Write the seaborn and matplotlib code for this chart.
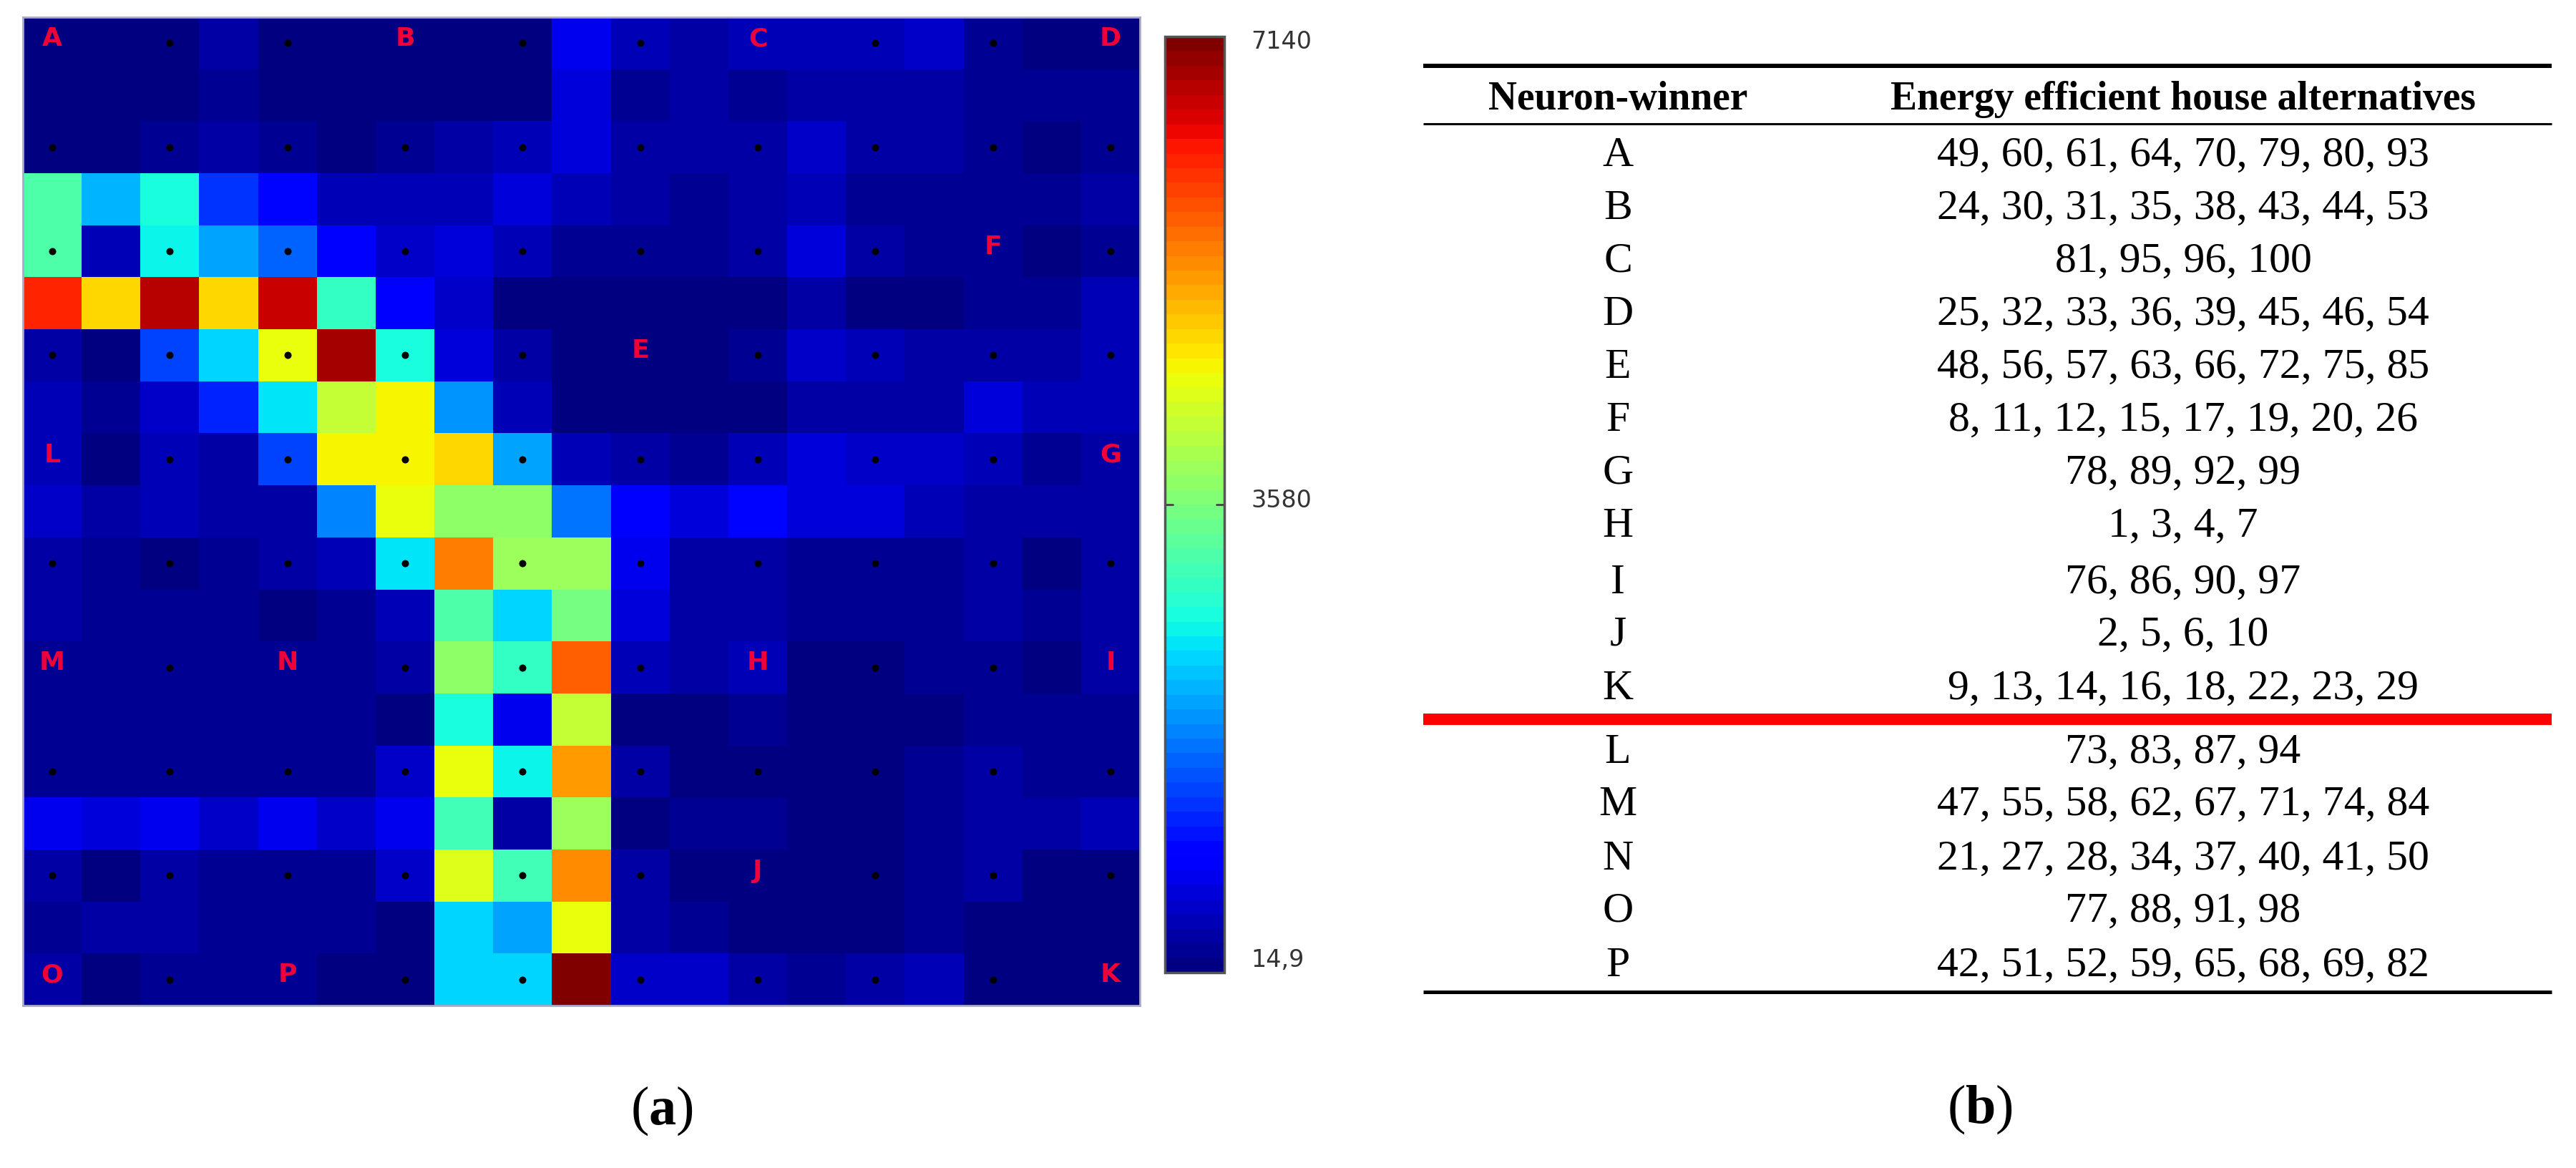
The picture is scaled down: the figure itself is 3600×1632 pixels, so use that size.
import matplotlib
matplotlib.use("Agg")
import matplotlib.pyplot as plt
import seaborn as sns
import numpy as np

# U-matrix of the map (a)
u_matrix = [
    [30, 30, 30, 260, 61, 30, 30, 15, 92, 768, 368, 276, 399, 399, 430, 553, 215, 30, 30],
    [15, 15, 15, 184, 61, 30, 30, 122, 122, 614, 184, 245, 153, 276, 276, 276, 215, 215, 215],
    [30, 30, 153, 276, 153, 15, 184, 307, 430, 645, 307, 276, 276, 491, 276, 276, 184, 30, 215],
    [3150, 2224, 2794, 1333, 941, 399, 399, 399, 614, 430, 276, 215, 276, 368, 153, 153, 153, 153, 245],
    [3150, 368, 2580, 2081, 1618, 834, 522, 583, 399, 153, 153, 153, 276, 614, 245, 215, 184, 30, 215],
    [6249, 4824, 6748, 4824, 6641, 2936, 799, 491, 122, 61, 61, 61, 30, 307, 61, 61, 215, 215, 399],
    [307, 61, 1440, 2366, 4575, 6855, 2722, 614, 245, 30, 15, 30, 153, 553, 368, 245, 245, 245, 430],
    [399, 215, 491, 1155, 2509, 4219, 4646, 2010, 399, 122, 15, 30, 61, 307, 307, 338, 614, 399, 399],
    [399, 92, 368, 307, 1440, 4646, 4646, 4860, 2117, 399, 276, 153, 368, 614, 553, 491, 399, 184, 245],
    [491, 276, 399, 245, 276, 1867, 4504, 3756, 3756, 1761, 799, 645, 1013, 583, 614, 399, 307, 245, 245],
    [245, 184, 122, 153, 245, 430, 2509, 5537, 3863, 3863, 737, 276, 276, 153, 153, 215, 245, 61, 276],
    [245, 153, 153, 153, 30, 153, 368, 3150, 2366, 3506, 676, 276, 307, 153, 153, 153, 276, 153, 245],
    [215, 153, 153, 153, 153, 153, 276, 3791, 2936, 5786, 368, 276, 399, 61, 61, 153, 215, 92, 245],
    [153, 153, 153, 153, 153, 153, 122, 2758, 692, 4183, 30, 122, 153, 122, 122, 15, 215, 153, 215],
    [153, 153, 153, 153, 153, 153, 491, 4539, 2616, 5323, 276, 92, 122, 61, 61, 153, 245, 153, 215],
    [737, 614, 768, 553, 707, 553, 768, 3079, 338, 3898, 61, 153, 153, 61, 61, 153, 307, 276, 399],
    [245, 122, 307, 153, 153, 153, 491, 4432, 3079, 5430, 245, 122, 122, 61, 61, 215, 245, 61, 61],
    [184, 245, 245, 153, 153, 153, 122, 2366, 2081, 4575, 245, 215, 30, 30, 30, 184, 30, 15, 30],
    [276, 122, 153, 184, 184, 30, 92, 2366, 2366, 7140, 491, 491, 245, 215, 245, 368, 61, 30, 30],
]
cbar_min = 14.9
cbar_mid = 3580
cbar_max = 7140

# neuron grid, every second cell of the matrix. empty string = plain dot
node_labels = [
    ["A", "", "", "B", "", "", "C", "", "", "D"],
    ["", "", "", "", "", "", "", "", "", ""],
    ["", "", "", "", "", "", "", "", "F", ""],
    ["", "", "", "", "", "E", "", "", "", ""],
    ["L", "", "", "", "", "", "", "", "", "G"],
    ["", "", "", "", "", "", "", "", "", ""],
    ["M", "", "N", "", "", "", "H", "", "", "I"],
    ["", "", "", "", "", "", "", "", "", ""],
    ["", "", "", "", "", "", "J", "", "", ""],
    ["O", "", "P", "", "", "", "", "", "", "K"],
]

table_header = ["Neuron-winner", "Energy efficient house alternatives"]
neurons = list("ABCDEFGHIJKLMNOP")
alternatives = [
    "49, 60, 61, 64, 70, 79, 80, 93",
    "24, 30, 31, 35, 38, 43, 44, 53",
    "81, 95, 96, 100",
    "25, 32, 33, 36, 39, 45, 46, 54",
    "48, 56, 57, 63, 66, 72, 75, 85",
    "8, 11, 12, 15, 17, 19, 20, 26",
    "78, 89, 92, 99",
    "1, 3, 4, 7",
    "76, 86, 90, 97",
    "2, 5, 6, 10",
    "9, 13, 14, 16, 18, 22, 23, 29",
    "73, 83, 87, 94",
    "47, 55, 58, 62, 67, 71, 74, 84",
    "21, 27, 28, 34, 37, 40, 41, 50",
    "77, 88, 91, 98",
    "42, 51, 52, 59, 65, 68, 69, 82",
]

W, H = 3600, 1633
row_centers = [218, 292, 366, 440, 514, 588, 662, 736, 815, 888, 963, 1052, 1125, 1201, 1274, 1350]

sns.set_theme(style="white")
plt.rcParams["font.family"] = ["DejaVu Sans"]
plt.rcParams["mathtext.fontset"] = "custom"
plt.rcParams["mathtext.rm"] = "Liberation Serif"
plt.rcParams["mathtext.bf"] = "Liberation Serif:bold"


def px_axes(fig, x0, y0, x1, y1):
    # axes from pixel box, y from the top
    return fig.add_axes([x0 / W, 1 - y1 / H, (x1 - x0) / W, (y1 - y0) / H])


fig = plt.figure(figsize=(W / 100, H / 100), dpi=100, facecolor="white")

ax = px_axes(fig, 32, 25, 1593, 1406)
cax = px_axes(fig, 1628, 52, 1711, 1360)

sns.heatmap(
    np.array(u_matrix), ax=ax, cbar_ax=cax, cmap=plt.get_cmap("jet", 64),
    vmin=cbar_min, vmax=cbar_max, xticklabels=False, yticklabels=False,
    cbar_kws={"ticks": []},
)
for side in ax.spines.values():
    side.set_visible(True)
    side.set_color("#a9a9c8")
    side.set_linewidth(2)

# neuron markers and their letters
for r, row in enumerate(node_labels):
    for c, name in enumerate(row):
        if name:
            ax.text(2 * c + 0.5, 2 * r + 0.4, name, color="#f00038", fontsize=26,
                    fontweight="bold", ha="center", va="center")
        else:
            ax.scatter(2 * c + 0.5, 2 * r + 0.5, s=52, color="black", linewidths=0, zorder=3)

# colorbar frame and labels
cbar = ax.collections[0].colorbar
cbar.outline.set_visible(True)
cbar.outline.set_edgecolor("#555555")
cbar.outline.set_linewidth(2.5)
for x0, x1 in [(0, 0.13), (0.87, 1)]:
    cax.plot([x0, x1], [cbar_mid, cbar_mid], color="#444444", lw=2,
             transform=cax.get_yaxis_transform())

page = fig.add_axes([0, 0, 1, 1], facecolor="none")
page.set_xlim(0, W)
page.set_ylim(H, 0)
page.axis("off")

for label, y in [("7140", 59), ("3580", 700), ("14,9", 1342)]:
    page.text(1748, y, label, fontsize=24, color="#333333", va="center", ha="left")

# table in panel (b)
left, right = 1989, 3566
neuron_x, alt_x = 2261, 3051
page.hlines(93, left, right, color="black", lw=4.3)
page.hlines(174, left, right, color="black", lw=2.2)
page.hlines(1006, left, right, color="#ff0000", lw=11.5)
page.hlines(1387, left, right, color="black", lw=3.6)

serif = "Liberation Serif"
page.text(neuron_x, 139, table_header[0], family=serif, fontweight="bold",
          fontsize=40, ha="center", va="center", color="black")
page.text(alt_x, 139, table_header[1], family=serif, fontweight="bold",
          fontsize=40, ha="center", va="center", color="black")
for name, alt, y in zip(neurons, alternatives, row_centers):
    page.text(neuron_x, y, name, family=serif, fontsize=43, ha="center", va="center", color="black")
    page.text(alt_x, y, alt, family=serif, fontsize=43, ha="center", va="center", color="black")

page.text(925, 1552, r"($\mathbf{a}$)", family=serif, fontsize=55, ha="center", va="center", color="black")
page.text(2767, 1550, r"($\mathbf{b}$)", family=serif, fontsize=55, ha="center", va="center", color="black")

fig.savefig("out.png", dpi=100)
plt.close(fig)
